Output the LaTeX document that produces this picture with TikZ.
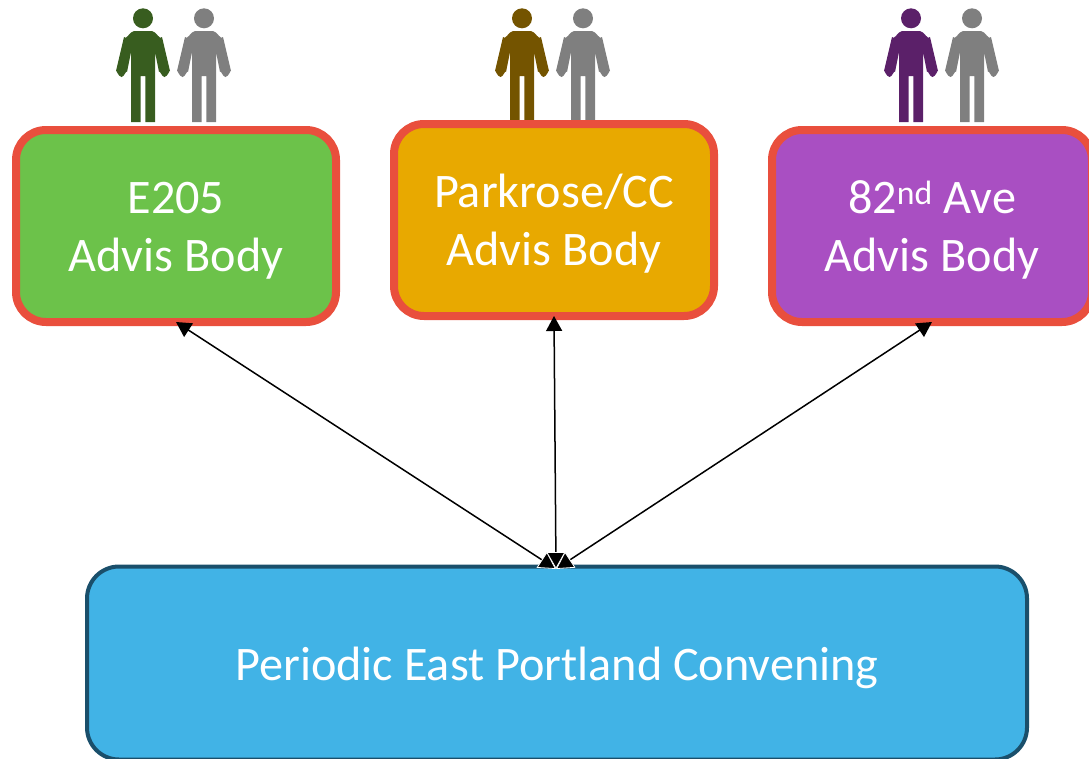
\documentclass[tikz,border=0pt]{standalone}
\usepackage{fontspec}
\setmainfont{Carlito}
\usetikzlibrary{arrows.meta}
\definecolor{bodyred}{HTML}{E94F3D}
\definecolor{greenfill}{HTML}{6CC24A}
\definecolor{orangefill}{HTML}{E8A900}
\definecolor{purplefill}{HTML}{A94FC2}
\definecolor{bluefill}{HTML}{41B3E6}
\definecolor{blueline}{HTML}{1A4F6B}
\definecolor{greenman}{HTML}{385D1F}
\definecolor{brownman}{HTML}{745400}
\definecolor{purpleman}{HTML}{5B2069}
\definecolor{greyman}{HTML}{7F7F7F}
\newcommand{\lowerline}[1]{\rule{0pt}{#1pt}}
\tikzset{
  advis/.style={draw=bodyred,line width=8pt,rounded corners=30pt,minimum width=320pt,minimum height=192pt,
    text=white,align=center,font=\fontsize{48.2}{58}\selectfont,outer sep=0pt},
  convene/.style={draw=blueline,line width=4pt,rounded corners=32pt,fill=bluefill,minimum width=940pt,minimum height=193pt,
    text=white,font=\fontsize{48.2}{58}\selectfont,outer sep=0pt},
  link/.style={line width=1.5pt,{Triangle[length=15pt,width=16pt]}-{Triangle[length=17pt,width=19pt,fill=black,color=white,line width=.8pt]}},
  person/.pic={
    \fill (0,18.3) circle (10);
    \fill (-19,37) to[out=-60,in=185] (-9,31) -- (9,31) to[out=-5,in=-120] (19,37)
      -- (27,71) to[out=80,in=0] (21.5,77) to[out=180,in=75] (16,72) -- (12,52) -- (12,122) -- (2.3,122) -- (2.3,76)
      -- (-2.3,76) -- (-2.3,122) -- (-12,122) -- (-12,52) -- (-16,72) to[out=105,in=0] (-21.5,77) to[out=180,in=100] (-27,71) -- cycle;
  }
}
\begin{document}
\begin{tikzpicture}[x=1pt,y=-1pt]
    \useasboundingbox (0,0) rectangle (1089,758);
    \pic [greenman] at (143,0) {person};
    \pic [greyman] at (204,0) {person};
    \pic [brownman] at (522,0) {person};
    \pic [greyman] at (583,0) {person};
    \pic [purpleman] at (911,0) {person};
    \pic [greyman] at (972,0) {person};
    \node (E205) [advis,fill=greenfill] at (176,226) {\lowerline{41}E205\\Advis Body};
    \node (PCC) [advis,fill=orangefill] at (554,220) {\lowerline{41}Parkrose/CC\\Advis Body};
    \node (Ave) [advis,fill=purplefill] at (932,226) {\lowerline{41}82\textsuperscript{nd} Ave\\Advis Body};
    \node (EPC) [convene] at (557,663) {\lowerline{44}Periodic East Portland Convening};
    \coordinate (top) at (556,569);
    \draw [link] (E205.south) -- (top);
    \draw [link] (Ave.south) -- (top);
    \draw [link] (PCC.south) -- (top);
\end{tikzpicture}
\end{document}
